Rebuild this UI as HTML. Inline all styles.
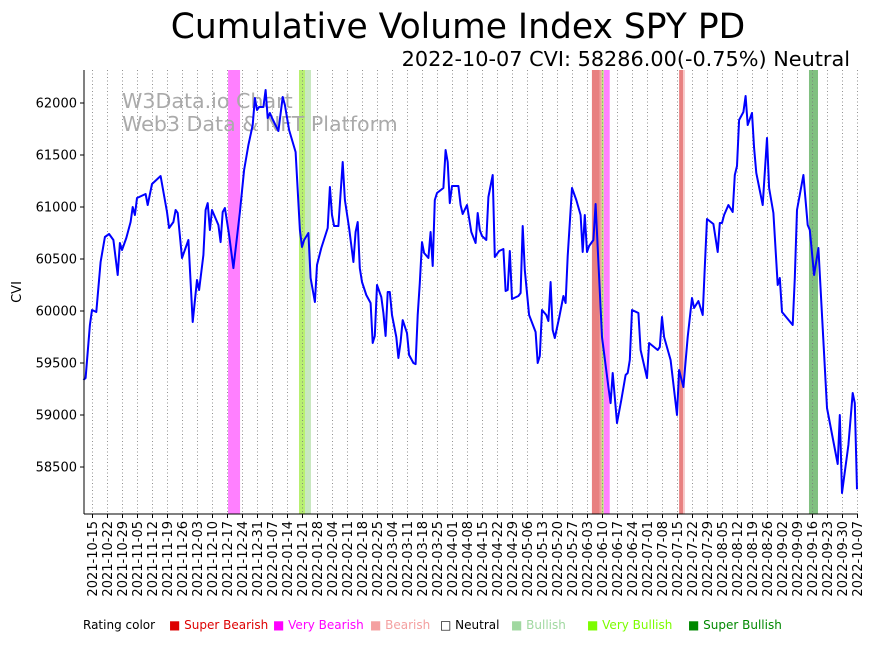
<!DOCTYPE html>
<html><head><meta charset="utf-8"><style>
body{margin:0;background:#fff;}
svg text{font-family:"DejaVu Sans","Liberation Sans",sans-serif;}
</style></head><body>
<svg id="chart" width="875" height="641" xmlns="http://www.w3.org/2000/svg">
<text x="458" y="38" font-size="34.5" text-anchor="middle">Cumulative Volume Index SPY PD</text>
<text x="850" y="66" font-size="20.8" text-anchor="end">2022-10-07 CVI: 58286.00(-0.75%) Neutral</text>
<g id="bands"></g><g id="grid"></g>
<text x="122" y="108" font-size="20.6" fill="#aaa">W3Data.io Chart</text>
<text x="122" y="131" font-size="20.6" fill="#aaa">Web3 Data &amp; NFT Platform</text>
<g id="series"></g><g id="axes"></g>
<text transform="translate(21,292) rotate(-90)" font-size="13" text-anchor="middle">CVI</text>
<g font-size="12">
<text x="83" y="629">Rating color</text>
<text x="169" y="629" fill="#d00">■ Super Bearish</text>
<text x="273" y="629" fill="#f0f">■ Very Bearish</text>
<text x="370" y="629" fill="#f4a0a0">■ Bearish</text>
<text x="440" y="629" fill="#000">□ Neutral</text>
<text x="511" y="629" fill="#a0d8a0">■ Bullish</text>
<text x="587" y="629" fill="#7cfc00">■ Very Bullish</text>
<text x="688" y="629" fill="#080">■ Super Bullish</text>
</g>
</svg>
<script>
// days since 2021-10-15
const days=[-4,-3,-1,0,2,4,6,8,10,12,13,14,16,18,19,20,21,25,26,28,32,35,36,38,39,40,42,45,47,49,50,52,53,54,55,56,59,60,61,62,64,66,69,71,73,75,76,77,78,80,81,82,83,84,87,89,90,92,95,97,98,99,101,102,104,105,107,110,111,112,113,115,117,118,120,122,123,124,125,126,128,130,131,132,133,135,136,137,138,139,140,142,143,144,145,147,148,150,151,152,153,154,155,157,158,159,160,161,164,165,166,167,168,171,172,173,175,177,179,180,181,182,184,185,187,188,190,192,193,194,195,196,199,200,201,202,203,204,207,208,209,210,212,213,214,215,216,218,220,221,222,224,226,228,229,230,231,232,234,235,238,241,242,243,245,247,249,250,251,252,255,256,259,260,264,265,266,267,270,273,274,276,278,280,281,283,285,286,287,290,292,293,294,295,297,299,300,301,302,304,305,306,308,309,310,313,315,316,318,320,321,322,327,328,329,332,334,335,337,339,343,348,349,350,353,355,356,357];
const cvi=[59337,59356,59865,60010,59990,60471,60712,60740,60683,60346,60654,60587,60702,60856,61000,60923,61087,61125,61019,61221,61298,60952,60798,60856,60971,60942,60510,60683,59894,60298,60202,60539,60971,61038,60779,60971,60827,60663,60952,60990,60731,60413,60952,61356,61596,61788,62048,61933,61962,61962,62125,61856,61904,61856,61731,62058,61981,61740,61529,60779,60615,60683,60750,60317,60087,60442,60606,60798,61192,60923,60817,60817,61433,61067,60798,60471,60760,60856,60413,60279,60154,60077,59692,59760,60250,60135,59981,59760,60183,60183,59962,59750,59548,59702,59913,59788,59577,59500,59490,59962,60269,60663,60558,60510,60760,60433,61067,61135,61183,61548,61433,61038,61202,61202,61019,60933,61019,60760,60654,60942,60779,60721,60683,61096,61308,60519,60577,60596,60192,60202,60577,60115,60144,60173,60817,60394,60173,59962,59798,59500,59567,60010,59962,59904,60279,59817,59740,59933,60144,60077,60529,61183,61067,60923,60567,60923,60567,60625,60683,61029,59750,59269,59115,59404,58923,59144,59385,59404,59529,60010,59981,59625,59356,59692,59625,59654,59942,59750,59529,59000,59433,59269,59750,60125,60029,60096,59962,60423,60885,60837,60567,60846,60846,60923,61019,60952,61308,61394,61837,61913,62067,61788,61904,61567,61327,61019,61663,61183,60942,60250,60317,59990,59865,60317,60971,61308,60827,60779,60346,60606,59067,58529,59000,58250,58712,59212,59115,58286];
const bandStart=[63.5,96.6,99.4,233.3,237,237.9,238.8,274,275.8,334.6];
const bandEnd=[69.1,99.4,102.2,237,237.9,238.8,241.6,275.8,276.7,338.8];
const bandColor=["#ff80ff","#b8f070","#c8e8c0","#e88080","#f4a0a0","#b8f070","#ff80ff","#e88080","#f8c8c8","#80c080"];
const yTicks=[58500,59000,59500,60000,60500,61000,61500,62000];
const xTickLabels=[];
{const s=new Date(Date.UTC(2021,9,15));for(let i=0;i<52;i++){const d=new Date(s.getTime()+i*7*864e5);xTickLabels.push(d.toISOString().slice(0,10));}}
const L=84,R=858,T=70,B=514;
const xs=d=>92+d*2.1428;
const ys=v=>103+(62000-v)/9.615;
const NS="http://www.w3.org/2000/svg";
function mk(p,t,a){const e=document.createElementNS(NS,t);for(const k in a)e.setAttribute(k,a[k]);p.appendChild(e);return e;}
const bands=document.getElementById('bands'),grid=document.getElementById('grid'),series=document.getElementById('series'),axes=document.getElementById('axes');
bandStart.forEach((s,i)=>{const r=mk(bands,'rect',{x:xs(s),y:T,width:xs(bandEnd[i])-xs(s),height:B-T,fill:bandColor[i]});

});
xTickLabels.forEach((lab,i)=>{const x=Math.round(xs(i*7))+0.5;
const g=mk(grid,'line',{x1:x,x2:x,y1:T,y2:B,stroke:'#777','stroke-width':0.8,'stroke-dasharray':'1,2.5'});


mk(axes,'line',{x1:x,x2:x,y1:B,y2:B+4,stroke:'#000'});
const t=mk(axes,'text',{transform:`translate(${x+4.5},${B+7}) rotate(-90)`,'font-size':13,'text-anchor':'end'});t.textContent=lab;

});
yTicks.forEach(v=>{const y=ys(v);mk(axes,'line',{x1:L-4,x2:L,y1:y,y2:y,stroke:'#000'});
const t=mk(axes,'text',{x:L-7,y:y+4.5,'font-size':13,'text-anchor':'end'});t.textContent=v;

});
mk(axes,'line',{x1:L,x2:L,y1:T,y2:B,stroke:'#000'});
mk(axes,'line',{x1:L,x2:R,y1:B,y2:B,stroke:'#000'});
const pl=mk(series,'polyline',{points:days.map((d,i)=>xs(d).toFixed(1)+','+ys(cvi[i]).toFixed(1)).join(' '),fill:'none',stroke:'#0000ff','stroke-width':2,'stroke-linejoin':'round'});


</script>
</body></html>
